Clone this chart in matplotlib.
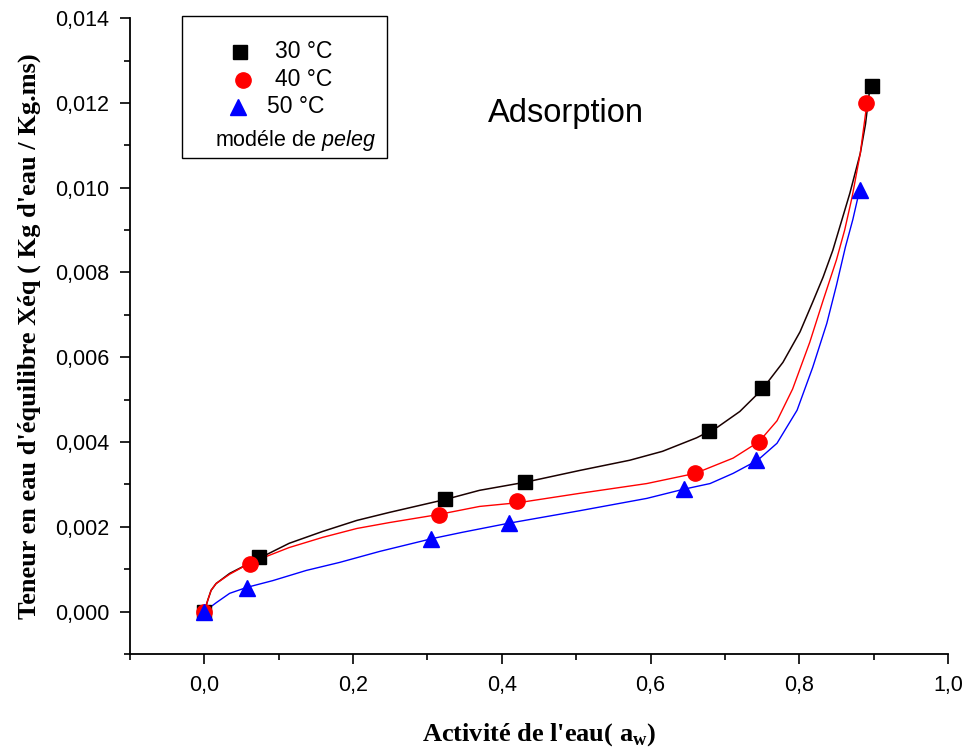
import matplotlib
matplotlib.use("Agg")
import matplotlib.pyplot as plt
from matplotlib.patches import Rectangle
from matplotlib.ticker import MultipleLocator

plt.rcParams["mathtext.fontset"] = "custom"
plt.rcParams["mathtext.it"] = "Liberation Sans:italic"
plt.rcParams["mathtext.rm"] = "Liberation Sans"
plt.rcParams["mathtext.bf"] = "Liberation Serif:bold"

# measured points (aw, Xeq)
aw_30 = [0.0, 0.074, 0.323, 0.431, 0.678, 0.750, 0.898]
x_30 = [0.0, 0.00128, 0.00266, 0.00305, 0.00427, 0.00527, 0.01240]
aw_40 = [0.0, 0.062, 0.315, 0.421, 0.660, 0.746, 0.890]
x_40 = [0.0, 0.00113, 0.00227, 0.00260, 0.00326, 0.00401, 0.01200]
aw_50 = [0.0, 0.057, 0.305, 0.409, 0.645, 0.742, 0.881]
x_50 = [0.0, 0.00055, 0.00172, 0.00210, 0.00290, 0.00357, 0.00994]

# Peleg model curves
fit_aw_30 = [0.0, 0.0044, 0.009, 0.0157, 0.034, 0.074, 0.114, 0.159, 0.205, 0.249,
             0.323, 0.370, 0.431, 0.505, 0.572, 0.616, 0.662, 0.690, 0.720, 0.750,
             0.778, 0.801, 0.818, 0.832, 0.845, 0.868, 0.882, 0.889, 0.895]
fit_x_30 = [0.0, 0.00026, 0.00050, 0.00066, 0.00090, 0.00126, 0.00161, 0.00189,
            0.00215, 0.00234, 0.00264, 0.00286, 0.00305, 0.00333, 0.00357, 0.00378,
            0.00410, 0.00435, 0.00472, 0.00524, 0.00588, 0.00660, 0.00730, 0.00789,
            0.00852, 0.00987, 0.01081, 0.01150, 0.01237]
fit_aw_40 = [0.0, 0.0044, 0.009, 0.0157, 0.034, 0.063, 0.114, 0.159, 0.205, 0.249,
             0.315, 0.370, 0.423, 0.505, 0.595, 0.660, 0.711, 0.746, 0.770, 0.791,
             0.814, 0.832, 0.850, 0.861, 0.871, 0.882, 0.891]
fit_x_40 = [0.0, 0.00026, 0.00050, 0.00066, 0.00088, 0.00116, 0.00151, 0.00175,
            0.00196, 0.00210, 0.00229, 0.00248, 0.00257, 0.00279, 0.00302, 0.00326,
            0.00362, 0.00401, 0.00450, 0.00525, 0.00635, 0.00734, 0.00830, 0.00900,
            0.00978, 0.01081, 0.01200]
fit_aw_50 = [0.0, 0.016, 0.034, 0.057, 0.092, 0.137, 0.182, 0.236, 0.306, 0.347,
             0.408, 0.505, 0.595, 0.643, 0.680, 0.711, 0.744, 0.770, 0.797, 0.818,
             0.837, 0.850, 0.862, 0.872, 0.881]
fit_x_50 = [0.0, 0.00021, 0.00043, 0.00057, 0.00073, 0.00097, 0.00116, 0.00142,
            0.00172, 0.00187, 0.00208, 0.00238, 0.00267, 0.00288, 0.00302, 0.00326,
            0.00357, 0.00397, 0.00475, 0.00576, 0.00680, 0.00770, 0.00860, 0.00925,
            0.00994]

x_ticks = [0.0, 0.2, 0.4, 0.6, 0.8, 1.0]
x_tick_labels = ["0,0", "0,2", "0,4", "0,6", "0,8", "1,0"]
y_ticks = [0.0, 0.002, 0.004, 0.006, 0.008, 0.010, 0.012, 0.014]
y_tick_labels = ["0,000", "0,002", "0,004", "0,006", "0,008", "0,010", "0,012", "0,014"]

fig = plt.figure(figsize=(9.66, 7.56), dpi=100)
ax = fig.add_axes([0.1346, 0.135, 0.8468, 0.841])

ax.plot(fit_aw_30, fit_x_30, color="#1a0000", lw=1.1, zorder=2)
ax.plot(fit_aw_40, fit_x_40, color="#ff0000", lw=1.0, zorder=2)
ax.plot(fit_aw_50, fit_x_50, color="#0000ff", lw=1.0, zorder=2)

ax.plot(aw_30, x_30, "s", color="black", ms=9.5, ls="none", zorder=3)
ax.plot(aw_40, x_40, "o", color="#ff0000", ms=11, ls="none", zorder=4)
ax.plot(aw_50, x_50, "^", color="#0000ff", ms=11.5, ls="none", zorder=5)

ax.set_xlim(-0.1, 1.0)
ax.set_ylim(-0.001, 0.014)
ax.set_xticks(x_ticks)
ax.set_xticklabels(x_tick_labels, family="Liberation Sans", fontsize=15.5)
ax.set_yticks(y_ticks)
ax.set_yticklabels(y_tick_labels, family="Liberation Sans", fontsize=15.5)
ax.xaxis.set_minor_locator(MultipleLocator(0.1))
ax.yaxis.set_minor_locator(MultipleLocator(0.001))
ax.tick_params(which="major", direction="out", length=7, width=1.2, pad=8)
ax.tick_params(which="minor", direction="out", length=4, width=1.2)

for side in ["top", "right"]:
    ax.spines[side].set_visible(False)
for side in ["left", "bottom"]:
    ax.spines[side].set_linewidth(1.3)

ax.set_xlabel(r"Activité de l'eau( $\mathbf{a}_{\mathbf{w}}$)", family="Liberation Serif",
              fontweight="bold", fontsize=19, labelpad=18)
ax.set_ylabel("Teneur en eau d'équilibre Xéq ( Kg d'eau / Kg.ms)", family="Liberation Serif",
              fontweight="bold", fontsize=19, labelpad=10)

ax.text(0.486, 0.01176, "Adsorption", family="Liberation Sans", fontsize=23.5,
        ha="center", va="center")

# legend box
ax.add_patch(Rectangle((0.0636, 0.78), 0.2506, 0.223, transform=ax.transAxes,
                       fill=False, edgecolor="black", lw=1.0, clip_on=False))
ax.plot([0.134], [0.947], "s", color="black", ms=9.5, transform=ax.transAxes, clip_on=False)
ax.plot([0.138], [0.903], "o", color="#ff0000", ms=11, transform=ax.transAxes, clip_on=False)
ax.plot([0.132], [0.861], "^", color="#0000ff", ms=11.5, transform=ax.transAxes, clip_on=False)
ax.text(0.177, 0.947, "30 °C", transform=ax.transAxes, family="Liberation Sans",
        fontsize=16.5, va="center")
ax.text(0.177, 0.903, "40 °C", transform=ax.transAxes, family="Liberation Sans",
        fontsize=16.5, va="center")
ax.text(0.168, 0.861, "50 °C", transform=ax.transAxes, family="Liberation Sans",
        fontsize=16.5, va="center")
ax.text(0.104, 0.808, r"modéle de $\mathit{peleg}$", transform=ax.transAxes,
        family="Liberation Sans", fontsize=15.5, va="center")

fig.savefig("out.png", dpi=100)
